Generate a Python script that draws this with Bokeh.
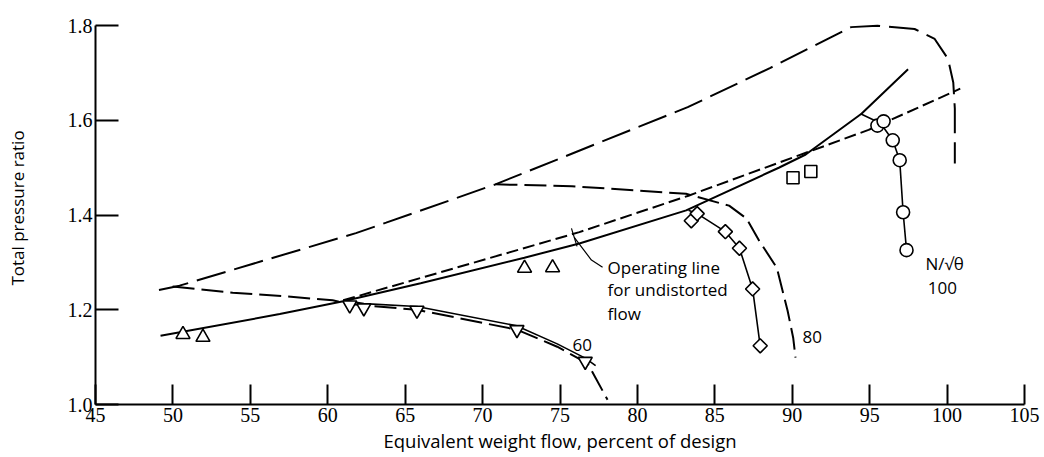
import numpy as np
from bokeh.plotting import figure
from bokeh.models import Range1d, FixedTicker
from bokeh.core.properties import value
from bokeh.embed import file_html
from bokeh.resources import INLINE

# ---------------- data ----------------
x_ticks = [45, 50, 55, 60, 65, 70, 75, 80, 85, 90, 95, 100, 105]
x_tick_labels = ["45", "50", "55", "60", "65", "70", "75", "80", "85", "90", "95", "100", "105"]
y_ticks = [1.0, 1.2, 1.4, 1.6, 1.8]
y_tick_labels = ["1.0", "1.2", "1.4", "1.6", "1.8"]

# long-dash boundary (surge line / 100 % speed limit)
surge_x = [49.1, 50.43, 61.82, 63.77, 70.83, 83.25, 88.59, 93.8, 95.5, 97.9, 99.2, 100.06, 100.4, 100.5, 100.5]
surge_y = [1.242, 1.251, 1.362, 1.384, 1.465, 1.628, 1.711, 1.797, 1.80, 1.793, 1.772, 1.730, 1.680, 1.625, 1.509]

# dashed 80 % speed line (undistorted)
sp80_dash_x = [70.83, 75.77, 83.14, 85.92, 87.04, 87.88, 89.0, 89.7, 90.06, 90.21]
sp80_dash_y = [1.465, 1.461, 1.445, 1.420, 1.393, 1.345, 1.289, 1.198, 1.141, 1.099]

# dashed 60 % speed line (undistorted)
sp60_dash_x = [49.98, 53.86, 57.09, 60.32, 61.42, 65.76, 72.22, 74.82, 76.78, 78.07]
sp60_dash_y = [1.249, 1.236, 1.229, 1.220, 1.212, 1.200, 1.158, 1.122, 1.087, 1.01]

# short-dash line above operating line
short_dash_x = [61.0, 76.25, 83.3, 94.93, 100.85]
short_dash_y = [1.220, 1.364, 1.441, 1.580, 1.667]

# operating line for undistorted flow (solid)
oper_x = [49.2, 56.9, 61.0, 66.0, 72.7, 76.25, 83.15, 89.13, 90.87, 94.47, 97.48]
oper_y = [1.145, 1.191, 1.218, 1.256, 1.31, 1.34, 1.41, 1.50, 1.528, 1.614, 1.708]

# distorted-flow speed lines (solid, through symbols)
sp60_x = [61.0, 61.42, 62.33, 65.76, 72.22, 74.82, 76.63, 77.3]
sp60_y = [1.220, 1.218, 1.213, 1.207, 1.166, 1.128, 1.098, 1.082]
sp80_x = [83.3, 83.86, 85.68, 86.59, 87.44, 87.93]
sp80_y = [1.41, 1.403, 1.365, 1.330, 1.244, 1.124]
sp100_x = [94.41, 95.7, 96.49, 96.94, 97.16, 97.38]
sp100_y = [1.614, 1.594, 1.558, 1.516, 1.406, 1.326]

# symbols
tri_up_x = [50.65, 51.94, 72.71, 74.52]
tri_up_y = [1.148, 1.142, 1.288, 1.289]
tri_dn_x = [61.42, 62.33, 65.76, 72.22, 76.63]
tri_dn_y = [1.210, 1.204, 1.199, 1.158, 1.091]
dia_x = [83.48, 83.86, 85.68, 86.59, 87.44, 87.93]
dia_y = [1.388, 1.403, 1.365, 1.330, 1.244, 1.124]
sq_x = [90.05, 91.2]
sq_y = [1.479, 1.492]
circ_x = [95.5, 95.9, 96.49, 96.94, 97.16, 97.38]
circ_y = [1.589, 1.598, 1.558, 1.516, 1.406, 1.326]

# leader line (with cross tick) for "Operating line" note
lead_x = [75.92, 77.03, 77.75]
lead_y = [1.353, 1.305, 1.290]
cross_x = [75.74, 76.1]
cross_y = [1.372, 1.334]

# ---------------- figure ----------------
TICK_FONT = "Liberation Sans Narrow"
TEXT_FONT = "Open Sans"

p = figure(frame_width=929, frame_height=393,
           x_range=Range1d(45, 105), y_range=Range1d(1.0, 1.83),
           output_backend="svg", toolbar_location=None,
           min_border_left=95, min_border_right=16,
           min_border_top=11, min_border_bottom=49)
p.grid.visible = False
p.outline_line_color = None
p.background_fill_color = "white"
p.border_fill_color = "white"

for ax in (p.xaxis[0], p.yaxis[0]):
    ax.axis_line_color = "black"
    ax.axis_line_width = 2
    ax.major_tick_line_color = "black"
    ax.major_tick_line_width = 2
    ax.major_tick_out = 0
    ax.minor_tick_line_color = None
    ax.major_label_text_font = TICK_FONT
    ax.major_label_text_font_size = "20px"
    ax.major_label_text_color = "black"
    ax.axis_label_text_font = TEXT_FONT
    ax.axis_label_text_font_style = "normal"
    ax.axis_label_text_color = "black"

xa = p.xaxis[0]
xa.ticker = FixedTicker(ticks=x_ticks)
xa.major_label_overrides = {t: l for t, l in zip(x_ticks, x_tick_labels)}
xa.bounds = (45, 105)
xa.major_tick_in = 20
xa.major_label_standoff = 3
xa.axis_label = "Equivalent weight flow, percent of design"
xa.axis_label_text_font_size = "18.5px"
xa.axis_label_standoff = 3

ya = p.yaxis[0]
ya.ticker = FixedTicker(ticks=y_ticks)
ya.major_label_overrides = {t: l for t, l in zip(y_ticks, y_tick_labels)}
ya.bounds = (1.0, 1.8)
ya.major_tick_in = 23
ya.major_label_standoff = 3
ya.axis_label = "Total pressure ratio"
ya.axis_label_text_font_size = "17px"
ya.axis_label_standoff = 36

K = "black"
p.line(surge_x, surge_y, line_color=K, line_width=2, line_dash="30 9")
p.line(sp80_dash_x, sp80_dash_y, line_color=K, line_width=2, line_dash="22 7")
p.line(sp60_dash_x, sp60_dash_y, line_color=K, line_width=2, line_dash="22 7")
p.line(short_dash_x, short_dash_y, line_color=K, line_width=2, line_dash="12 5")
p.line(oper_x, oper_y, line_color=K, line_width=2)
p.line(sp60_x, sp60_y, line_color=K, line_width=1.6)
p.line(sp80_x, sp80_y, line_color=K, line_width=1.6)
p.line(sp100_x, sp100_y, line_color=K, line_width=1.6)
p.line(lead_x, lead_y, line_color=K, line_width=1.2)
p.line(cross_x, cross_y, line_color=K, line_width=1.2)

mk = dict(fill_color="white", line_color=K, line_width=1.6)
p.scatter(tri_up_x, tri_up_y, marker="triangle", size=14, **mk)
p.scatter(tri_dn_x, tri_dn_y, marker="inverted_triangle", size=14, **mk)
p.scatter(dia_x, dia_y, marker="square", angle=np.pi / 4, size=10, **mk)
p.scatter(sq_x, sq_y, marker="square", size=12, **mk)
p.scatter(circ_x, circ_y, marker="circle", size=13, **mk)

note = dict(text_font=value(TEXT_FONT), text_font_size="17px", text_color=K,
            text_baseline="middle")
p.text(x=[78.07, 78.07, 78.07], y=[1.290, 1.242, 1.193],
       text=["Operating line", "for undistorted", "flow"], text_align="left", **note)
p.text(x=[76.43, 91.29, 99.84, 99.7], y=[1.125, 1.142, 1.298, 1.247],
       text=["60", "80", "N/\u221a\u03b8", "100"], text_align="center", **note)

open("out.html", "w").write(file_html(p, INLINE))
